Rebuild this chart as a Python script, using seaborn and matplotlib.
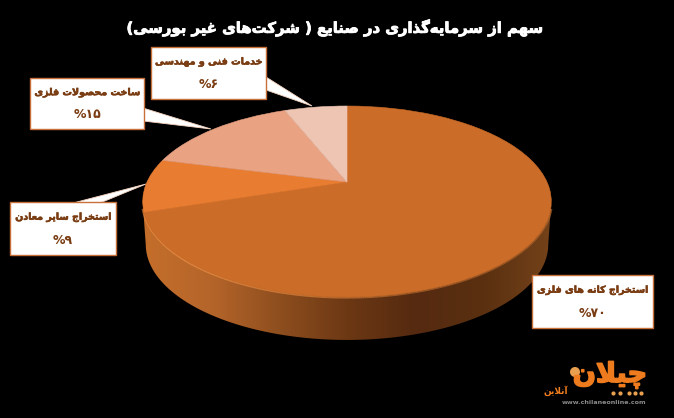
import numpy as np
import matplotlib
matplotlib.use("Agg")
import matplotlib.pyplot as plt
import matplotlib.patheffects as pe
import seaborn as sns
from matplotlib.collections import LineCollection
from matplotlib.patches import Circle, Polygon, Rectangle
from matplotlib.transforms import Transform

# Data
sectors = ["استخراج کانه های فلزی", "استخراج سایر معادن", "ساخت محصولات فلزی", "خدمات فنی و مهندسی"]
shares = [70, 9, 15, 6]
share_labels = ["%۷۰", "%۹", "%۱۵", "%۶"]
title = "سهم از سرمایه\u200cگذاری در صنایع ( شرکت\u200cهای غیر بورسی)"
slice_colors = ["#CB6C28", "#E87D31", "#E9A282", "#EEC5B3"]
side_colors = ["#C46E2A", "#B5652A", "#8E4E1E", "#6C3814", "#552A10", "#5A3010", "#74421A"]

# Arabic letter forms: isolated, final, initial, medial
forms = {
    "ا": "\uFE8D\uFE8E", "د": "\uFEA9\uFEAA", "ذ": "\uFEAB\uFEAC", "ر": "\uFEAD\uFEAE",
    "ز": "\uFEAF\uFEB0", "و": "\uFEED\uFEEE", "آ": "\uFE81\uFE82",
    "ب": "\uFE8F\uFE90\uFE91\uFE92", "ت": "\uFE95\uFE96\uFE97\uFE98",
    "ج": "\uFE9D\uFE9E\uFE9F\uFEA0", "ح": "\uFEA1\uFEA2\uFEA3\uFEA4", "خ": "\uFEA5\uFEA6\uFEA7\uFEA8",
    "س": "\uFEB1\uFEB2\uFEB3\uFEB4", "ش": "\uFEB5\uFEB6\uFEB7\uFEB8",
    "ص": "\uFEB9\uFEBA\uFEBB\uFEBC", "ع": "\uFEC9\uFECA\uFECB\uFECC",
    "غ": "\uFECD\uFECE\uFECF\uFED0", "ف": "\uFED1\uFED2\uFED3\uFED4",
    "ک": "\uFB8E\uFB8F\uFB90\uFB91", "گ": "\uFB92\uFB93\uFB94\uFB95",
    "ل": "\uFEDD\uFEDE\uFEDF\uFEE0", "م": "\uFEE1\uFEE2\uFEE3\uFEE4",
    "ن": "\uFEE5\uFEE6\uFEE7\uFEE8", "ه": "\uFEE9\uFEEA\uFEEB\uFEEC",
    "ی": "\uFBFC\uFBFD\uFBFE\uFBFF", "چ": "\uFB7A\uFB7B\uFB7C\uFB7D",
}
mirrored = {"(": ")", ")": "("}


def shape(text):
    # matplotlib has no bidi or joining, so pick the forms and reverse for display
    text = text.replace("لا", "\uE000")
    out = []
    for i, ch in enumerate(text):
        prev = text[i - 1] if i > 0 else ""
        nxt = text[i + 1] if i + 1 < len(text) else ""
        if ch == "\uE000":
            joined = prev in forms and len(forms[prev]) == 4
            out.append("\uFEFC" if joined else "\uFEFB")
        elif ch in forms:
            f = forms[ch]
            a = prev in forms and len(forms[prev]) == 4
            b = (nxt in forms or nxt == "\uE000") and len(f) == 4
            if a and b:
                out.append(f[3])
            elif a:
                out.append(f[1])
            elif b:
                out.append(f[2])
            else:
                out.append(f[0])
        elif ch != "\u200c":
            out.append(mirrored.get(ch, ch))
    return "".join(reversed(out))


class PieTilt(Transform):
    # projective map from the unit pie to the tilted top face, in pixels
    input_dims = 2
    output_dims = 2
    is_separable = False
    has_inverse = False

    def transform_non_affine(self, pts):
        pts = np.asarray(pts, dtype=float)
        d = 1 + 0.204 * pts[:, 1]
        return np.column_stack([347 + 200 * pts[:, 0] / d, 182 - 91.5 * pts[:, 1] / d])


def heavy(color, width):
    return [pe.withStroke(linewidth=width, foreground=color)]


sns.set_theme(style="white", rc={"figure.facecolor": "black", "axes.facecolor": "black"})
plt.rcParams["font.family"] = ["DejaVu Sans"]

fig = plt.figure(figsize=(6.74, 4.18), dpi=100)
ax = fig.add_axes([0, 0, 1, 1])

# Pie top face
tilt = PieTilt()
wedges, _ = ax.pie(shares, colors=slice_colors, startangle=90, counterclock=False,
                   wedgeprops={"linewidth": 0, "zorder": 3})
for w, c in zip(wedges, slice_colors):
    w.set_transform(tilt + ax.transData)
    w.set_edgecolor(c)
    w.set_linewidth(0.4)
ax.set_aspect("auto")
ax.axis("off")

# Pie side, a horizontal gradient clipped to the body
t = np.linspace(0, 2 * np.pi, 721)
top_edge = tilt.transform_non_affine(np.column_stack([np.sin(t), np.cos(t)]))
bottom_edge = np.column_stack([347 + (top_edge[:, 0] - 347) * 0.985, top_edge[:, 1] + 43])
lower_top = top_edge[top_edge[:, 1] >= 201]
lower_top = lower_top[np.argsort(lower_top[:, 0])]
lower_bottom = bottom_edge[bottom_edge[:, 1] >= 244]
lower_bottom = lower_bottom[np.argsort(lower_bottom[:, 0])]
body = np.vstack([lower_top, lower_bottom[::-1]])
side_cmap = sns.blend_palette(side_colors, as_cmap=True)
grad = ax.imshow(np.linspace(0, 1, 256)[None, :], cmap=side_cmap, aspect="auto",
                 extent=(143, 552, 345, 195), zorder=1)
body_patch = Polygon(body, closed=True, facecolor="none", edgecolor="none")
ax.add_patch(body_patch)
grad.set_clip_path(body_patch)
ax.set_xlim(0, 674)
ax.set_ylim(418, 0)

# Soft bright rim along the front of the top face
rim = lower_top[lower_top[:, 1] >= 208]
segs = np.stack([rim[:-1], rim[1:]], axis=1)
rim_colors = sns.blend_palette(["#E5833A", "#EF9148", "#E3853C", "#B4662C", "#A95F28", "#C47030"], n_colors=len(segs))
ax.add_collection(LineCollection(segs, colors=rim_colors, linewidths=2.4, alpha=0.75, zorder=2))

# Callouts
callouts = [
    [(266, 77), (266, 90), (312, 106)],
    [(143, 108), (143, 121), (211, 129)],
    [(73, 203), (100, 203), (146, 184)],
]
for pts in callouts:
    ax.add_patch(Polygon(pts, closed=True, facecolor="white", edgecolor="#F4D3BF", linewidth=0.6, zorder=2))

# Label boxes, same order as the sectors
boxes = [(532, 275, 121, 53), (10, 202, 106, 53), (30, 78, 114, 51), (151, 47, 115, 52)]
for name, lab, (x, y, w, h) in zip(sectors, share_labels, boxes):
    ax.add_patch(Rectangle((x, y), w, h, facecolor="white", edgecolor="#C8703A", linewidth=1, zorder=5))
    ax.text(x + w / 2, y + h * 0.28, shape(name), color="#7A3C12", fontsize=6.85, fontweight="bold",
            ha="center", va="center", zorder=6, path_effects=heavy("#7A3C12", 0.4))
    ax.text(x + w / 2, y + h * 0.72, lab, color="#7A3C12", fontsize=9, fontweight="bold",
            ha="center", va="center", zorder=6)

# Title
ax.text(335, 28, shape(title), color="white", fontsize=10.7, fontweight="bold", ha="center", va="center",
        path_effects=heavy("white", 0.6))

# Logo
logo_orange = "#EE7C1E"
ax.text(610, 375, shape("چیلان"), color=logo_orange, fontsize=19.5, fontweight="bold", ha="center", va="center",
        path_effects=heavy(logo_orange, 1.2))
ax.add_patch(Circle((575, 372), 5, facecolor="#E8A050", edgecolor="none"))
ax.scatter([613, 620, 629, 635, 641], [393] * 5, s=9, color="#E8A050", linewidths=0)
ax.text(556, 391, shape("آنلاین"), color=logo_orange, fontsize=6.5, fontweight="bold", ha="center", va="center")
ax.text(604, 403, "www.chilaneonline.com", color="#8A8A8A", fontsize=4.6, fontweight="bold", ha="center", va="center")

fig.savefig("out.png", dpi=100, facecolor="black")
